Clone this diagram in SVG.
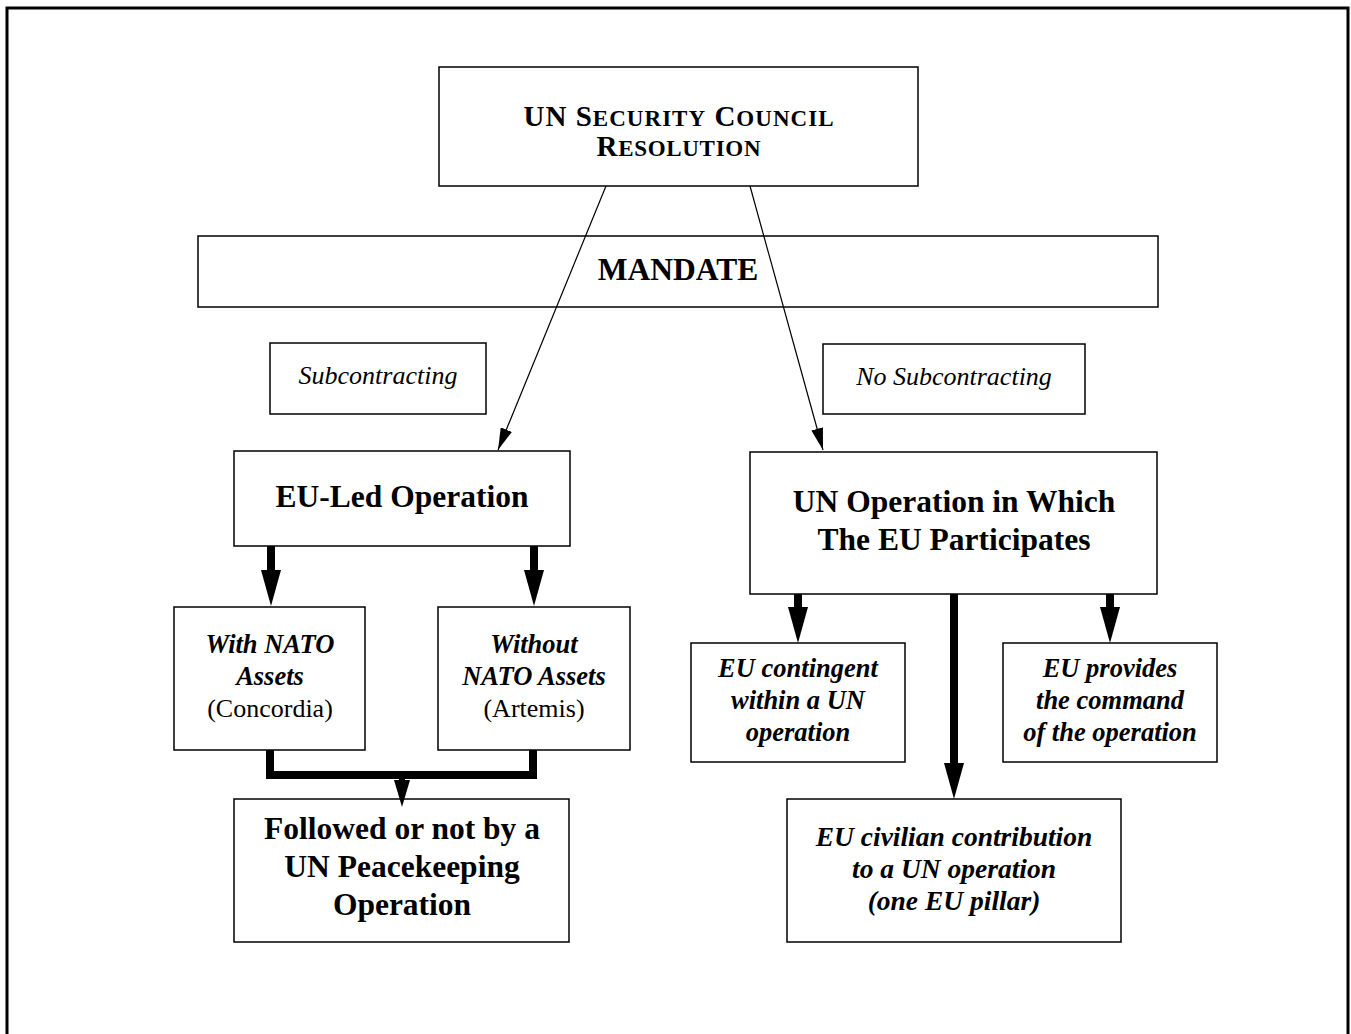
<svg xmlns="http://www.w3.org/2000/svg" width="1351" height="1034" viewBox="0 0 1351 1034">
<style>
  .box{fill:#fff;stroke:#000;stroke-width:1.5}
  text{font-family:"Liberation Serif","Times New Roman",serif;fill:#000;text-anchor:middle}
  .b{font-weight:bold;font-size:31.5px}
  .i{font-style:italic;font-size:26px}
  .bi{font-weight:bold;font-style:italic;font-size:26.5px}
  .r{font-size:26px}
  .sc{font-weight:bold;font-size:29px}
  .sm{font-size:23px}
  .thin{stroke:#000;stroke-width:1.2;fill:none}
  .thick{stroke:#000;stroke-width:8;fill:none}
</style>
<defs>
  <marker id="thinHead" markerUnits="userSpaceOnUse" viewBox="0 0 22 12" markerWidth="22" markerHeight="12" refX="22" refY="6" orient="auto">
    <path d="M0,0 L22,6 L0,12 Z" fill="#000"/>
  </marker>
  <marker id="thickHead" markerUnits="userSpaceOnUse" viewBox="0 0 36 20" markerWidth="36" markerHeight="20" refX="0" refY="10" orient="auto">
    <path d="M0,0 L36,10 L0,20 Z" fill="#000"/>
  </marker>
  <marker id="midHead" markerUnits="userSpaceOnUse" viewBox="0 0 27 16" markerWidth="27" markerHeight="16" refX="0" refY="8" orient="auto">
    <path d="M0,0 L27,8 L0,16 Z" fill="#000"/>
  </marker>
</defs>
<rect x="0" y="0" width="1351" height="1034" fill="#fff"/>
<rect x="7" y="8" width="1341" height="1045" fill="none" stroke="#000" stroke-width="3"/>

<g id="mandate">
  <rect class="box" x="198" y="236" width="960" height="71"/>
  <text class="b" x="678" y="280">MANDATE</text>
</g>

<g id="unsc">
  <rect class="box" x="439" y="67" width="479" height="119"/>
  <text class="sc" x="678.5" y="126" textLength="310" lengthAdjust="spacing">UN S<tspan class="sm">ECURITY</tspan> C<tspan class="sm">OUNCIL</tspan></text>
  <text class="sc" x="678.5" y="156" textLength="164" lengthAdjust="spacing">R<tspan class="sm">ESOLUTION</tspan></text>
</g>

<g id="subcontracting">
  <rect class="box" x="270" y="343" width="216" height="71"/>
  <text class="i" x="378" y="384">Subcontracting</text>
</g>

<g id="no-subcontracting">
  <rect class="box" x="823" y="344" width="262" height="70"/>
  <text class="i" x="954" y="385">No Subcontracting</text>
</g>

<g id="eu-led">
  <rect class="box" x="234" y="451" width="336" height="95"/>
  <text class="b" x="402" y="507">EU-Led Operation</text>
</g>

<g id="un-operation">
  <rect class="box" x="750" y="452" width="407" height="142"/>
  <text class="b" x="954" y="512">UN Operation in Which</text>
  <text class="b" x="954" y="550">The EU Participates</text>
</g>

<g id="with-nato">
  <rect class="box" x="174" y="607" width="191" height="143"/>
  <text class="bi" x="270" y="653">With NATO</text>
  <text class="bi" x="270" y="685">Assets</text>
  <text class="r" x="270" y="717">(Concordia)</text>
</g>

<g id="without-nato">
  <rect class="box" x="438" y="607" width="192" height="143"/>
  <text class="bi" x="534" y="653">Without</text>
  <text class="bi" x="534" y="685">NATO Assets</text>
  <text class="r" x="534" y="717">(Artemis)</text>
</g>

<g id="followed">
  <rect class="box" x="234" y="799" width="335" height="143"/>
  <text class="b" x="402" y="839">Followed or not by a</text>
  <text class="b" x="402" y="877">UN Peacekeeping</text>
  <text class="b" x="402" y="915">Operation</text>
</g>

<g id="eu-contingent">
  <rect class="box" x="691" y="643" width="214" height="119"/>
  <text class="bi" x="798" y="677">EU contingent</text>
  <text class="bi" x="798" y="709">within a UN</text>
  <text class="bi" x="798" y="741">operation</text>
</g>

<g id="eu-command">
  <rect class="box" x="1003" y="643" width="214" height="119"/>
  <text class="bi" x="1110" y="677">EU provides</text>
  <text class="bi" x="1110" y="709">the command</text>
  <text class="bi" x="1110" y="741">of the operation</text>
</g>

<g id="eu-civilian">
  <rect class="box" x="787" y="799" width="334" height="143"/>
  <text class="bi" x="954" y="846" style="font-size:27.5px">EU civilian contribution</text>
  <text class="bi" x="954" y="878" style="font-size:27.5px">to a UN operation</text>
  <text class="bi" x="954" y="910" style="font-size:27.5px">(one EU pillar)</text>
</g>

<g id="connectors">
  <line class="thin" x1="606" y1="186" x2="498" y2="450" marker-end="url(#thinHead)"/>
  <line class="thin" x1="750" y1="186" x2="823" y2="450" marker-end="url(#thinHead)"/>
  <line class="thick" x1="271" y1="546" x2="271" y2="570" marker-end="url(#thickHead)"/>
  <line class="thick" x1="534" y1="546" x2="534" y2="570" marker-end="url(#thickHead)"/>
  <path class="thick" d="M270,750 V775 H533 V750"/>
  <line x1="402" y1="775" x2="402" y2="780" stroke="#000" stroke-width="6" marker-end="url(#midHead)"/>
  <line class="thick" x1="798" y1="594" x2="798" y2="607" marker-end="url(#thickHead)"/>
  <line class="thick" x1="954" y1="594" x2="954" y2="763" marker-end="url(#thickHead)"/>
  <line class="thick" x1="1110" y1="594" x2="1110" y2="607" marker-end="url(#thickHead)"/>
</g>
</svg>
